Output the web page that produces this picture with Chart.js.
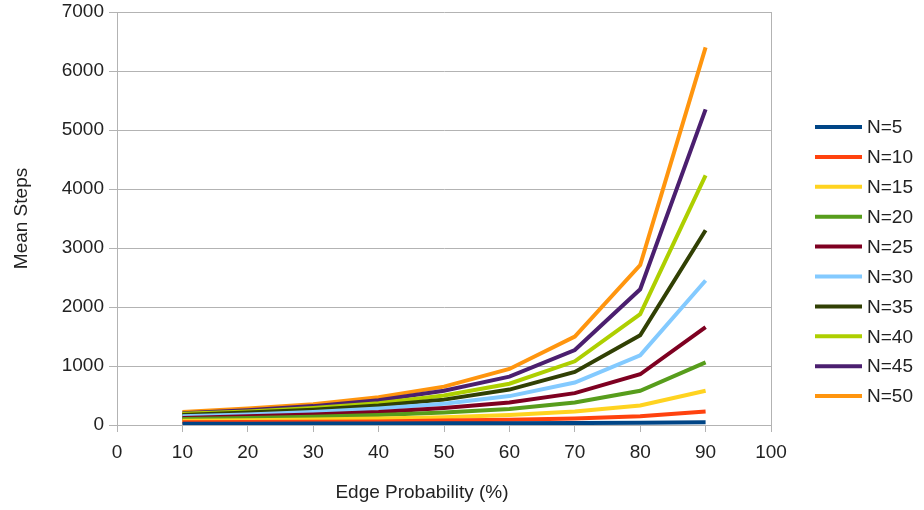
<!DOCTYPE html>
<html>
<head>
<meta charset="utf-8">
<script src="https://cdn.jsdelivr.net/npm/chart.js@4/dist/chart.umd.min.js"></script>
<style>
  html, body { margin: 0; padding: 0; background: #fff; }
  #wrap { width: 924px; height: 510px; }
</style>
</head>
<body>
<div id="wrap"><canvas id="c" width="924" height="510"></canvas></div>
<script>
// Edge probability (%) for each measurement
const edgeProb = [10, 20, 30, 40, 50, 60, 70, 80, 90];

// Mean number of steps per graph size N
const seriesNames = ["N=5", "N=10", "N=15", "N=20", "N=25", "N=30", "N=35", "N=40", "N=45", "N=50"];
const n5  = [20, 22, 24, 26, 28, 30, 33, 38, 45];
const n10 = [45, 50, 55, 60, 75, 90, 110, 150, 230];
const n15 = [70, 80, 95, 110, 130, 170, 230, 330, 580];
const n20 = [100, 120, 140, 170, 210, 270, 380, 580, 1060];
const n25 = [120, 150, 180, 220, 290, 380, 540, 860, 1660];
const n30 = [150, 180, 220, 280, 360, 490, 720, 1180, 2450];
const n35 = [170, 210, 260, 330, 430, 600, 900, 1520, 3300];
const n40 = [190, 230, 290, 370, 500, 700, 1080, 1880, 4230];
const n45 = [200, 250, 320, 420, 580, 820, 1270, 2300, 5350];
const n50 = [220, 280, 350, 470, 650, 950, 1500, 2710, 6400];
const seriesValues = [n5, n10, n15, n20, n25, n30, n35, n40, n45, n50];

const seriesColors = ["#004586", "#ff420e", "#ffd320", "#579d1c", "#7e0021",
                      "#83caff", "#314004", "#aecf00", "#4b1f6f", "#ff950e"];

// Axis ticks and titles
const xTicks = [0, 10, 20, 30, 40, 50, 60, 70, 80, 90, 100];
const yTicks = [0, 1000, 2000, 3000, 4000, 5000, 6000, 7000];
const xTitle = "Edge Probability (%)";
const yTitle = "Mean Steps";

const FONT = "'Liberation Sans', Arial, sans-serif";
const GRID = "#b3b3b3";
const TEXT = "#222222";
const FS = 19;

const datasets = seriesNames.map((name, i) => ({
  label: name,
  data: edgeProb.map((x, j) => ({ x: x, y: seriesValues[i][j] })),
  borderColor: seriesColors[i],
  backgroundColor: seriesColors[i],
  borderWidth: 4,
  pointRadius: 0,
  tension: 0,
  fill: false
}));

// Legend at the right side, plus the horizontal axis title
const sideLegend = {
  id: "sideLegend",
  afterDraw(chart) {
    const ctx = chart.ctx;
    ctx.save();
    ctx.font = FS + "px " + FONT;
    ctx.textBaseline = "middle";
    ctx.textAlign = "left";
    chart.data.datasets.forEach((ds, i) => {
      const y = 127 + i * 29.9;
      ctx.strokeStyle = ds.borderColor;
      ctx.lineWidth = 4;
      ctx.beginPath();
      ctx.moveTo(815, y);
      ctx.lineTo(862, y);
      ctx.stroke();
      ctx.fillStyle = TEXT;
      ctx.fillText(ds.label, 867, y + 1);
    });
    ctx.textAlign = "center";
    ctx.fillText(xTitle, 422, 493);
    ctx.restore();
  }
};

new Chart(document.getElementById("c"), {
  type: "line",
  data: { datasets: datasets },
  options: {
    responsive: false,
    animation: false,
    layout: { padding: { left: 0, right: 153, top: 12, bottom: 0 } },
    plugins: { legend: { display: false }, tooltip: { enabled: false } },
    scales: {
      x: {
        type: "linear",
        min: 0,
        max: 100,
        afterBuildTicks(scale) { scale.ticks = xTicks.map(v => ({ value: v })); },
        afterFit(scale) { scale.height = 85; },
        border: { display: false },
        grid: {
          color: ctx => (ctx.tick && (ctx.tick.value === 100) ? GRID : "rgba(0,0,0,0)"),
          tickColor: GRID,
          tickLength: 7,
          lineWidth: 1
        },
        ticks: { color: TEXT, font: { family: FONT, size: FS }, padding: 9, maxRotation: 0 },
        title: { display: false }
      },
      y: {
        min: 0,
        max: 7000,
        afterBuildTicks(scale) { scale.ticks = yTicks.map(v => ({ value: v })); },
        afterFit(scale) { scale.width = 117; },
        border: { display: true, color: GRID, width: 1 },
        grid: { color: GRID, tickColor: GRID, tickLength: 8, lineWidth: 1 },
        ticks: {
          color: TEXT,
          font: { family: FONT, size: FS, lineHeight: 0.6 },
          padding: 5,
          callback: v => String(v)
        },
        title: {
          display: true,
          text: yTitle,
          color: TEXT,
          font: { family: FONT, size: FS },
          padding: { top: 10, bottom: 0 }
        }
      }
    }
  },
  plugins: [sideLegend]
});
</script>
</body>
</html>
